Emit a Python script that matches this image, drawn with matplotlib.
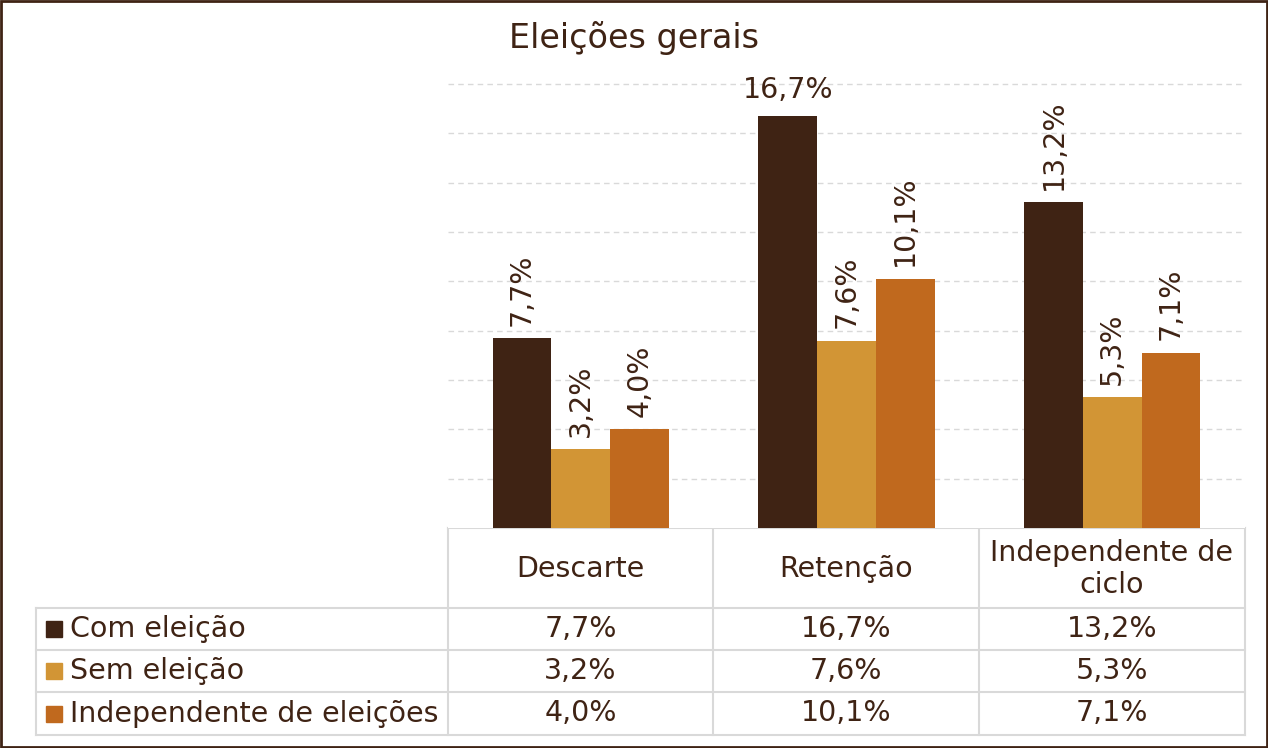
import matplotlib.pyplot as plt
from matplotlib.patches import Rectangle
import numpy as np

# data
categories = ["Descarte", "Retenção", "Independente de\nciclo"]
series = ["Com eleição", "Sem eleição", "Independente de eleições"]
com_eleicao = [7.7, 16.7, 13.2]
sem_eleicao = [3.2, 7.6, 5.3]
indep_eleicoes = [4.0, 10.1, 7.1]
values = [com_eleicao, sem_eleicao, indep_eleicoes]
colors = ["#3f2314", "#d29535", "#c0691e"]
text_color = "#3f2314"
grid_color = "#d9d9d9"

plt.rcParams["font.family"] = ["DejaVu Sans"]

W, H = 1268, 748
fig = plt.figure(figsize=(W / 100, H / 100), dpi=100)

# plot area in pixels
x0, x1, ybot, ytop = 448, 1245, 528, 84
ax = fig.add_axes([x0 / W, (H - ybot) / H, (x1 - x0) / W, (ybot - ytop) / H])
ax.set_xlim(-0.5, 2.5)
ax.set_ylim(0, 18)
for s in ax.spines.values():
    s.set_visible(False)
ax.set_xticks([])
ax.set_yticks([])
for g in np.arange(2, 19, 2):
    ax.axhline(g, color=grid_color, lw=1, ls=(0, (4, 3)), zorder=0, clip_on=False)

fs = 20.5
bw = 0.221
x = np.arange(len(categories))
for i, (vals, c) in enumerate(zip(values, colors)):
    xs = x + (i - 1) * bw
    ax.bar(xs, vals, width=bw, color=c, zorder=2)
    for xi, v in zip(xs, vals):
        lab = f"{v:.1f}%".replace(".", ",")
        if v > 15:
            ax.annotate(lab, (xi, v), xytext=(0, 9), textcoords="offset points",
                        ha="center", va="bottom", fontsize=fs, color=text_color,
                        annotation_clip=False)
        else:
            ax.annotate(lab, (xi, v), xytext=(0, 9), textcoords="offset points",
                        ha="center", va="bottom", rotation=90, fontsize=fs,
                        color=text_color, annotation_clip=False)

# overlay in pixel coordinates for table, title and border
ov = fig.add_axes([0, 0, 1, 1], zorder=-1)
ov.set_xlim(0, W)
ov.set_ylim(H, 0)
ov.axis("off")

ov.text(509, 38, "Eleições gerais", fontsize=24, color=text_color,
        ha="left", va="center")

col_x = [x0, 713, 979, x1]
row_y = [ybot, 608, 650, 692, 735]
lw = 1.5
for cx in col_x:
    ov.plot([cx, cx], [row_y[0], row_y[-1]], color=grid_color, lw=lw)
ov.plot([36, 36], [row_y[1], row_y[-1]], color=grid_color, lw=lw)
ov.plot([x0, x1], [row_y[0], row_y[0]], color=grid_color, lw=lw)
for ry in row_y[1:]:
    ov.plot([36, x1], [ry, ry], color=grid_color, lw=lw)

for j, cat in enumerate(categories):
    cx = (col_x[j] + col_x[j + 1]) / 2
    ov.text(cx, (row_y[0] + row_y[1]) / 2 + 1, cat, ha="center", va="center",
            fontsize=fs, color=text_color, linespacing=1.2)
    for i, vals in enumerate(values):
        cy = (row_y[i + 1] + row_y[i + 2]) / 2
        ov.text(cx, cy, f"{vals[j]:.1f}%".replace(".", ","), ha="center",
                va="center", fontsize=fs, color=text_color)

for i, (name, c) in enumerate(zip(series, colors)):
    cy = (row_y[i + 1] + row_y[i + 2]) / 2
    ov.add_patch(Rectangle((46, cy - 8), 16, 16, color=c))
    ov.text(70, cy, name, ha="left", va="center", fontsize=fs, color=text_color)

ov.add_patch(Rectangle((1, 1), W - 2, H - 2, fill=False, ec=text_color, lw=2))

fig.savefig("out.png", dpi=100)
